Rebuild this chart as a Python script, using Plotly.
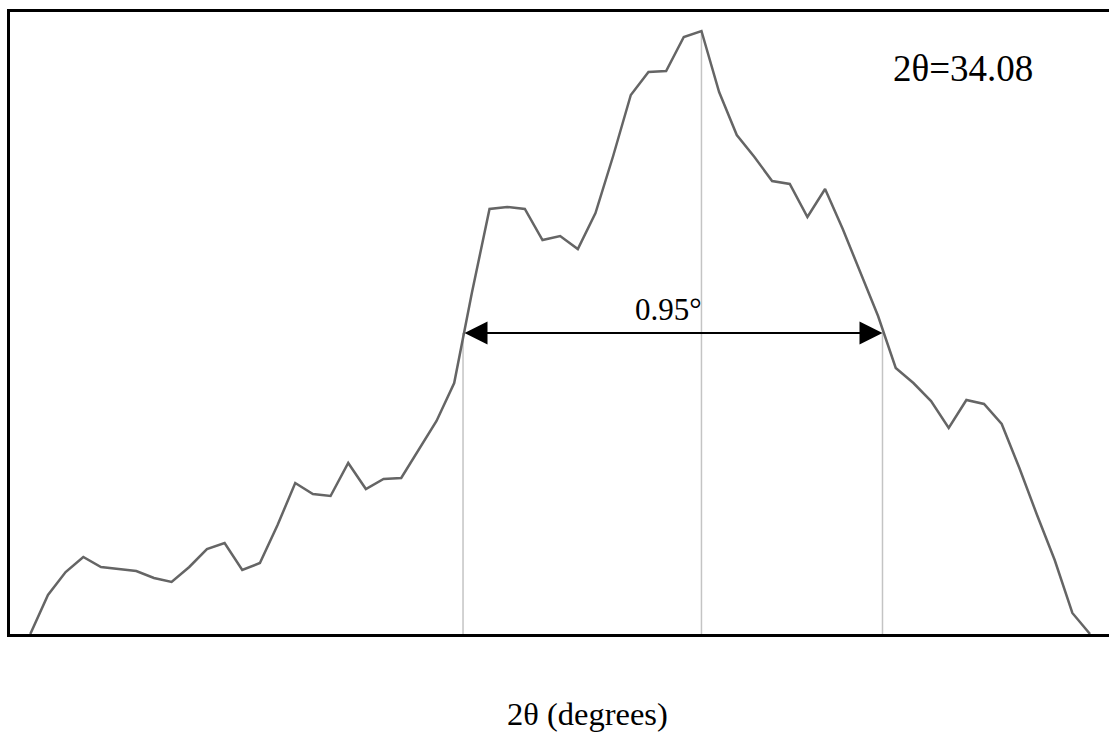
import plotly.graph_objects as go

# XRD scan around the 34.08 deg reflection (0.04 deg step)
two_theta = [
    32.56, 32.60, 32.64, 32.68, 32.72, 32.76, 32.80, 32.84, 32.88, 32.92,
    32.96, 33.00, 33.04, 33.08, 33.12, 33.16, 33.20, 33.24, 33.28, 33.32,
    33.36, 33.40, 33.44, 33.48, 33.52, 33.56, 33.60, 33.64, 33.68, 33.72,
    33.76, 33.80, 33.84, 33.88, 33.92, 33.96, 34.00, 34.04, 34.08, 34.12,
    34.16, 34.20, 34.24, 34.28, 34.32, 34.36, 34.40, 34.44, 34.48, 34.52,
    34.56, 34.60, 34.64, 34.68, 34.72, 34.76, 34.80, 34.84, 34.88, 34.92,
    34.96,
]
intensity = [
    0, 39, 62, 77, 67, 65, 63, 56, 52, 67,
    85, 91, 64, 71, 109, 151, 140, 138, 171, 145,
    155, 156, 185, 213, 251, 341, 425, 427, 425, 394,
    398, 385, 421, 478, 539, 562, 563, 597, 603, 542,
    499, 477, 453, 450, 417, 445, 405, 361, 318, 266,
    251, 233, 206, 234, 230, 210, 166, 119, 74, 21,
    0,
]

peak_pos = 34.08
peak_height = 603
half_max = 301
fwhm_left = 33.54
fwhm_right = 34.49
fwhm_label = "0.95°"
peak_label = "2θ=34.08"
x_title = "2θ (degrees)"

serif = "Liberation Serif, Times New Roman, serif"

fig = go.Figure()

# guide lines: peak centre and the two half-maximum crossings
guide = dict(type="line", xref="x", yref="y", layer="below",
             line=dict(color="#c4c4c4", width=1.5))
fig.add_shape(x0=peak_pos, x1=peak_pos, y0=0, y1=peak_height, **guide)
fig.add_shape(x0=fwhm_left, x1=fwhm_left, y0=0, y1=half_max, **guide)
fig.add_shape(x0=fwhm_right, x1=fwhm_right, y0=0, y1=half_max, **guide)

fig.add_trace(go.Scatter(
    x=two_theta, y=intensity, mode="lines",
    line=dict(color="#656565", width=2.5),
    hoverinfo="x+y", showlegend=False,
))

# double-headed arrow marking the full width at half maximum
fig.add_annotation(
    x=fwhm_right, y=half_max, ax=fwhm_left, ay=half_max,
    xref="x", yref="y", axref="x", ayref="y",
    text="", showarrow=True, arrowside="end+start",
    arrowhead=2, arrowsize=2.3, arrowwidth=2, arrowcolor="black",
    standoff=0, startstandoff=0,
)
fig.add_annotation(
    x=(fwhm_left + fwhm_right) / 2 - 0.01, y=half_max + 24, xref="x", yref="y",
    text=fwhm_label, showarrow=False,
    font=dict(family=serif, size=31, color="black"),
    xanchor="center", yanchor="middle",
)
fig.add_annotation(
    x=34.673, y=566, xref="x", yref="y",
    text=peak_label, showarrow=False,
    font=dict(family=serif, size=37, color="black"),
    xanchor="center", yanchor="middle",
)
fig.add_annotation(
    x=0.5255, y=-0.128, xref="paper", yref="paper",
    text=x_title, showarrow=False,
    font=dict(family=serif, size=32.5, color="black"),
    xanchor="center", yanchor="middle",
)

fig.update_xaxes(
    range=[32.514, 35.003], showgrid=False, zeroline=False,
    showticklabels=False, ticks="",
    showline=True, linecolor="black", linewidth=2.5, mirror=True,
)
fig.update_yaxes(
    range=[0, 622], showgrid=False, zeroline=False,
    showticklabels=False, ticks="",
    showline=True, linecolor="black", linewidth=2.5,
)
fig.update_layout(
    width=1109, height=733,
    margin=dict(l=10, r=0, t=12, b=99),
    plot_bgcolor="white", paper_bgcolor="white",
)

fig.write_html("out.html")
